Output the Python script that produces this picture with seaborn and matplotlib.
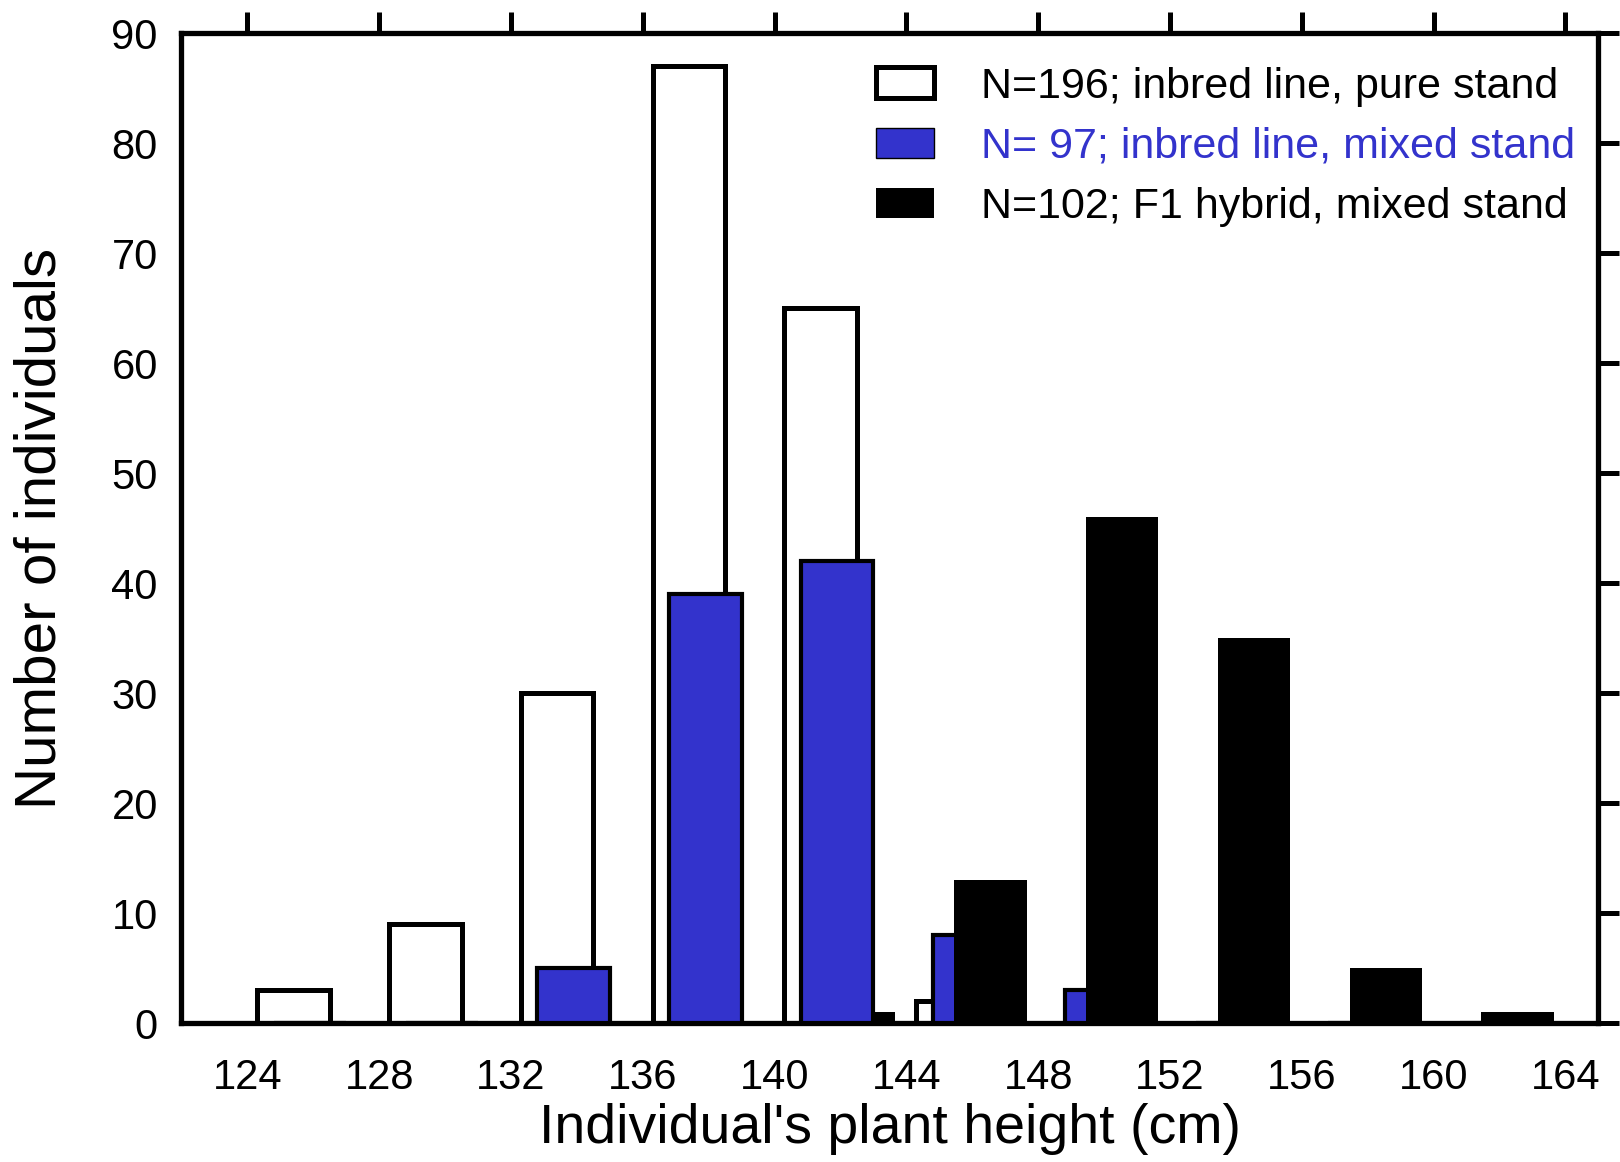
import matplotlib
matplotlib.use("Agg")
import matplotlib.pyplot as plt
from matplotlib.patches import Patch
import seaborn as sns
import pandas as pd
import numpy as np

bins = [124, 128, 132, 136, 140, 144, 148, 152, 156, 160]
pure_inbred = [3, 9, 30, 87, 65, 2, 0, 0, 0, 0]
mixed_inbred = [0, 0, 5, 39, 42, 8, 3, 0, 0, 0]
mixed_hybrid = [0, 0, 0, 0, 1, 13, 46, 35, 5, 1]
labels = ["N=196; inbred line, pure stand",
          "N= 97; inbred line, mixed stand",
          "N=102; F1 hybrid, mixed stand"]
xticks = [124, 128, 132, 136, 140, 144, 148, 152, 156, 160, 164]
yticks = [0, 10, 20, 30, 40, 50, 60, 70, 80, 90]

sns.set_theme(style="white")
plt.rcParams['font.family'] = ['Liberation Sans', 'DejaVu Sans']
plt.rcParams['text.color'] = 'black'
plt.rcParams['axes.labelcolor'] = 'black'
plt.rcParams['xtick.color'] = 'black'
plt.rcParams['ytick.color'] = 'black'

BLUE = "#3333CC"
fig = plt.figure(figsize=(16.2, 11.62), dpi=100)
ax = fig.add_axes([0.112, 0.1196, 0.8746, 0.852])

offsets = [1.4, 1.9, 2.55]
series = [pure_inbred, mixed_inbred, mixed_hybrid]
faces = ["white", BLUE, "black"]
lws = [3.6, 3.0, 0]
groups = []
for i, (vals, off) in enumerate(zip(series, offsets)):
    df = pd.DataFrame({"x": np.array(bins) + off, "y": vals})
    n_before = len(ax.patches)
    sns.barplot(data=df, x="x", y="y", native_scale=True, width=0.55,
                color=faces[i], edgecolor="black", linewidth=lws[i],
                saturation=1, ax=ax, zorder=2 + i, errorbar=None)
    groups.append(list(ax.patches[n_before:]))

# layering: a mixed-inbred bar sits in front of the hybrid bar of the same bin when taller
for pb, ph in zip(groups[1], groups[2]):
    if pb.get_height() > ph.get_height():
        pb.set_zorder(6)

ax.set_xlim(122, 165)
ax.set_ylim(0, 90)
ax.set_xticks(xticks)
ax.set_xticklabels([str(t) for t in xticks])
ax.set_yticks(yticks)
ax.set_yticklabels([str(t) for t in yticks])
ax.tick_params(axis="both", which="both", direction="out", length=15, width=3.6,
               color="black", labelcolor="black", labelsize=30, top=True, right=True,
               labeltop=False, labelright=False)
ax.tick_params(axis="x", pad=10)
ax.tick_params(axis="y", pad=2)
for s in ax.spines.values():
    s.set_linewidth(3.8)
    s.set_color("black")
    s.set_visible(True)

ax.set_xlabel("Individual's plant height (cm)", fontsize=40, labelpad=4, color="black")
ax.set_ylabel("Number of individuals", fontsize=42, labelpad=32, color="black")

handles = [Patch(facecolor="white", edgecolor="black", linewidth=3.6),
           Patch(facecolor=BLUE, edgecolor="black", linewidth=1.0),
           Patch(facecolor="black", edgecolor="black", linewidth=0)]
leg = ax.legend(handles, labels, loc="upper left", bbox_to_anchor=(0.49, 0.966),
                frameon=False, fontsize=31, handlelength=1.35, handleheight=0.72,
                handletextpad=1.1, labelspacing=0.47, borderpad=0, borderaxespad=0)
for t, c in zip(leg.get_texts(), ["black", BLUE, "black"]):
    t.set_color(c)

fig.savefig("out.png", dpi=100)
